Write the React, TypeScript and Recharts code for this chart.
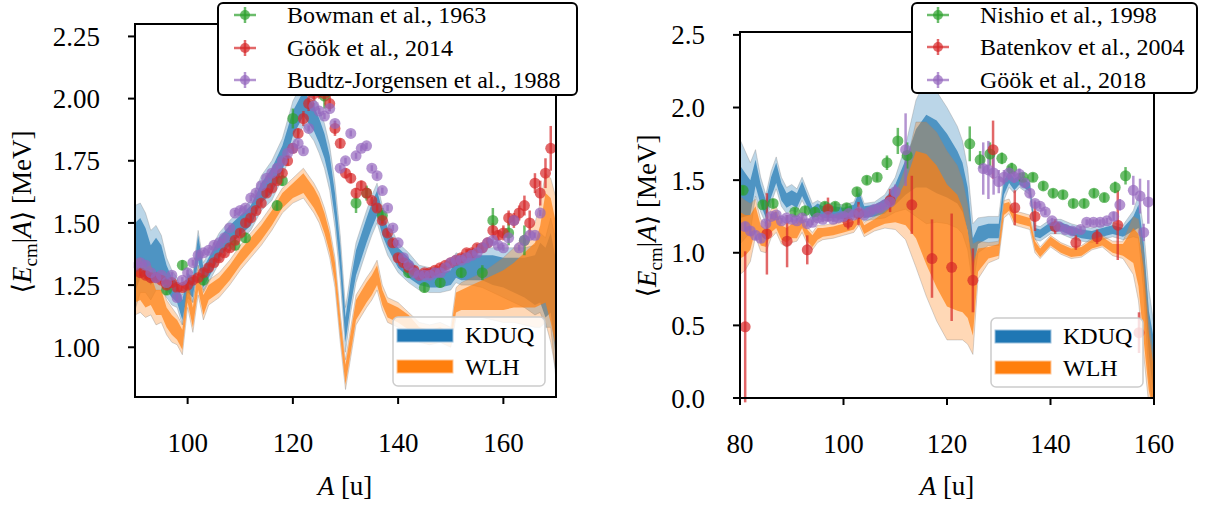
import React from "react";
import { ComposedChart, Area, Scatter, ErrorBar, XAxis, YAxis } from "recharts";

const FONT = "'Liberation Serif', 'DejaVu Serif', 'Times New Roman', serif";
const BLUE = "#1f77b4";
const ORANGE = "#ff7f0e";
const GREEN = "#2ca02c";
const RED = "#d62728";
const PURPLE = "#9467bd";

// ---------- left panel: model bands ----------
const leftA = [90, 91, 92, 93, 94, 95, 96, 97, 98, 99, 100, 101, 102, 103, 104, 106, 108, 110, 112, 114, 116, 118, 120, 122, 124, 125, 126, 127, 128, 129, 130, 131, 132, 134, 135, 136, 137, 138, 140, 142, 144, 146, 148, 150, 151, 152, 154, 156, 158, 160, 162, 164, 166, 167, 168, 169, 170];
const leftKduq = [1.36, 1.4, 1.38, 1.33, 1.36, 1.34, 1.28, 1.24, 1.22, 1.15, 1.26, 1.24, 1.4, 1.28, 1.32, 1.4, 1.45, 1.49, 1.53, 1.62, 1.67, 1.76, 1.9, 1.98, 1.92, 1.87, 1.81, 1.72, 1.57, 1.36, 1.07, 1.22, 1.34, 1.47, 1.53, 1.58, 1.5, 1.44, 1.36, 1.32, 1.28, 1.27, 1.27, 1.28, 1.32, 1.31, 1.32, 1.32, 1.31, 1.3, 1.29, 1.28, 1.27, 1.3, 1.26, 1.3, 1.15];
const leftKduqIn = [0.14, 0.12, 0.1, 0.08, 0.08, 0.07, 0.05, 0.04, 0.04, 0.04, 0.04, 0.04, 0.05, 0.04, 0.04, 0.04, 0.04, 0.04, 0.04, 0.04, 0.05, 0.05, 0.05, 0.05, 0.05, 0.05, 0.05, 0.05, 0.05, 0.05, 0.05, 0.05, 0.05, 0.05, 0.05, 0.05, 0.05, 0.04, 0.04, 0.04, 0.03, 0.03, 0.03, 0.03, 0.04, 0.04, 0.05, 0.05, 0.06, 0.06, 0.07, 0.08, 0.1, 0.12, 0.14, 0.16, 0.2];
const leftKduqOut = [0.21, 0.18, 0.16, 0.14, 0.13, 0.11, 0.08, 0.07, 0.06, 0.06, 0.06, 0.06, 0.07, 0.06, 0.06, 0.06, 0.06, 0.06, 0.06, 0.07, 0.08, 0.08, 0.09, 0.09, 0.09, 0.09, 0.09, 0.09, 0.09, 0.09, 0.09, 0.08, 0.08, 0.08, 0.08, 0.08, 0.07, 0.07, 0.06, 0.06, 0.05, 0.05, 0.05, 0.05, 0.06, 0.06, 0.07, 0.08, 0.09, 0.1, 0.11, 0.12, 0.14, 0.16, 0.18, 0.22, 0.28];
const leftWlh = [1.24, 1.25, 1.22, 1.23, 1.18, 1.18, 1.12, 1.09, 1.07, 1.03, 1.22, 1.12, 1.27, 1.17, 1.22, 1.25, 1.3, 1.36, 1.41, 1.46, 1.52, 1.59, 1.63, 1.66, 1.6, 1.56, 1.5, 1.42, 1.3, 1.08, 0.89, 1.02, 1.15, 1.22, 1.25, 1.29, 1.2, 1.15, 1.13, 1.1, 1.06, 1.05, 1.06, 1.04, 1.18, 1.19, 1.2, 1.21, 1.22, 1.23, 1.25, 1.27, 1.29, 1.33, 1.4, 1.35, 1.25];
const leftWlhIn = [0.06, 0.06, 0.06, 0.06, 0.05, 0.05, 0.04, 0.04, 0.04, 0.04, 0.04, 0.04, 0.04, 0.04, 0.03, 0.03, 0.03, 0.03, 0.03, 0.03, 0.03, 0.03, 0.03, 0.04, 0.04, 0.04, 0.04, 0.04, 0.04, 0.04, 0.04, 0.04, 0.04, 0.04, 0.04, 0.04, 0.03, 0.03, 0.03, 0.03, 0.02, 0.02, 0.02, 0.02, 0.04, 0.04, 0.05, 0.06, 0.07, 0.08, 0.09, 0.11, 0.13, 0.16, 0.22, 0.25, 0.25];
const leftWlhOut = [0.11, 0.11, 0.1, 0.1, 0.09, 0.08, 0.07, 0.07, 0.06, 0.06, 0.06, 0.06, 0.06, 0.06, 0.05, 0.05, 0.05, 0.05, 0.05, 0.05, 0.05, 0.05, 0.05, 0.06, 0.06, 0.06, 0.06, 0.06, 0.06, 0.06, 0.06, 0.06, 0.06, 0.06, 0.06, 0.06, 0.05, 0.05, 0.05, 0.04, 0.04, 0.04, 0.04, 0.04, 0.06, 0.07, 0.08, 0.09, 0.11, 0.13, 0.15, 0.18, 0.21, 0.25, 0.3, 0.33, 0.35];

// ---------- left panel: measurements ----------
const bowmanA = [96, 99, 103, 109, 111, 117, 118, 120, 126, 132, 134, 137, 142, 145, 148, 152, 156, 158, 161, 164];
const bowmanE = [1.23, 1.33, 1.27, 1.41, 1.44, 1.57, 1.67, 1.92, 2.01, 1.58, 1.62, 1.53, 1.3, 1.24, 1.26, 1.3, 1.3, 1.51, 1.46, 1.43];
const bowmanErr = [0.02, 0.02, 0.02, 0.02, 0.02, 0.02, 0.02, 0.04, 0.05, 0.04, 0.03, 0.03, 0.02, 0.02, 0.02, 0.02, 0.03, 0.05, 0.05, 0.06];

const gook14A = [91, 92, 93, 94, 95, 96, 97, 98, 99, 100, 101, 102, 103, 104, 105, 106, 107, 108, 109, 110, 111, 112, 113, 114, 115, 116, 117, 118, 119, 120, 121, 122, 123, 124, 125, 126, 127, 128, 129, 130, 131, 132, 133, 134, 135, 136, 137, 138, 139, 140, 141, 142, 143, 144, 145, 146, 147, 148, 149, 150, 151, 152, 153, 154, 155, 156, 157, 158, 159, 160, 161, 162, 163, 164, 165, 166, 167, 168, 169];
const gook14E = [1.3, 1.29, 1.28, 1.28, 1.27, 1.25, 1.26, 1.24, 1.24, 1.25, 1.27, 1.28, 1.3, 1.32, 1.34, 1.36, 1.38, 1.4, 1.43, 1.46, 1.5, 1.52, 1.55, 1.58, 1.62, 1.64, 1.67, 1.7, 1.75, 1.8, 1.86, 1.92, 1.98, 2.02, 2.03, 2.02, 1.98, 1.88, 1.82, 1.7, 1.68, 1.62, 1.65, 1.62, 1.59, 1.56, 1.51, 1.46, 1.42, 1.36, 1.34, 1.32, 1.31, 1.29, 1.3, 1.3, 1.31, 1.32, 1.33, 1.34, 1.35, 1.36, 1.38, 1.38, 1.4, 1.4, 1.42, 1.47, 1.45, 1.46, 1.52, 1.51, 1.54, 1.57, 1.5, 1.66, 1.62, 1.7, 1.8];
const gook14Err = [0.015, 0.015, 0.015, 0.015, 0.015, 0.015, 0.015, 0.015, 0.015, 0.015, 0.015, 0.015, 0.015, 0.015, 0.015, 0.015, 0.015, 0.015, 0.015, 0.015, 0.015, 0.015, 0.015, 0.015, 0.015, 0.015, 0.015, 0.015, 0.02, 0.02, 0.02, 0.03, 0.03, 0.03, 0.03, 0.03, 0.03, 0.03, 0.02, 0.02, 0.02, 0.02, 0.02, 0.02, 0.015, 0.015, 0.015, 0.015, 0.015, 0.015, 0.015, 0.015, 0.015, 0.015, 0.015, 0.015, 0.015, 0.015, 0.015, 0.015, 0.015, 0.015, 0.015, 0.015, 0.015, 0.02, 0.02, 0.03, 0.02, 0.03, 0.03, 0.03, 0.03, 0.04, 0.05, 0.04, 0.05, 0.06, 0.09];

const budtzA = [90, 91, 92, 93, 94, 95, 96, 97, 98, 99, 100, 101, 102, 103, 104, 105, 106, 107, 108, 109, 110, 111, 112, 113, 114, 115, 116, 117, 118, 119, 120, 121, 122, 123, 124, 125, 126, 127, 128, 129, 130, 131, 132, 133, 134, 135, 136, 137, 138, 139, 140, 141, 142, 143, 144, 145, 146, 147, 148, 149, 150, 151, 152, 153, 154, 155, 156, 157, 158, 159, 160, 161, 162, 163, 164, 165, 166, 167];
const budtzE = [1.33, 1.34, 1.33, 1.3, 1.28, 1.29, 1.26, 1.29, 1.2, 1.27, 1.3, 1.34, 1.37, 1.38, 1.39, 1.41, 1.42, 1.44, 1.48, 1.54, 1.55, 1.56, 1.6, 1.62, 1.65, 1.68, 1.7, 1.72, 1.75, 1.78, 1.8, 1.82, 1.79, 1.88, 1.97, 1.95, 1.93, 1.96, 1.9, 1.72, 1.75, 1.86, 1.77, 1.8, 1.81, 1.72, 1.69, 1.63, 1.56, 1.48, 1.42, 1.36, 1.33, 1.3, 1.29, 1.29, 1.29, 1.3, 1.3, 1.32, 1.34, 1.35, 1.35, 1.36, 1.37, 1.38, 1.4, 1.42, 1.43, 1.41, 1.4, 1.44, 1.51, 1.4, 1.43, 1.45, 1.45, 1.54];
const budtzErr = 0.012;

// ---------- right panel: model bands ----------
const rightA = [80, 81, 82, 83, 84, 85, 86, 87, 88, 89, 90, 91, 92, 93, 94, 95, 96, 98, 100, 102, 103, 104, 106, 108, 110, 112, 114, 116, 118, 120, 122, 123, 124, 125, 126, 128, 130, 131, 132, 133, 134, 136, 137, 138, 140, 142, 144, 146, 148, 150, 152, 154, 156, 157, 158, 159, 160];
const rightKduq = [1.42, 1.4, 1.38, 1.55, 1.4, 1.3, 1.45, 1.55, 1.42, 1.36, 1.38, 1.36, 1.44, 1.36, 1.27, 1.3, 1.28, 1.28, 1.27, 1.29, 1.38, 1.28, 1.29, 1.32, 1.4, 1.52, 1.65, 1.7, 1.66, 1.6, 1.52, 1.45, 1.3, 0.98, 1.12, 1.15, 1.15, 1.45, 1.52, 1.47, 1.5, 1.45, 1.14, 1.13, 1.18, 1.18, 1.15, 1.13, 1.12, 1.14, 1.16, 1.14, 1.2, 1.25, 0.95, 0.45, 0.2];
const rightKduqIn = [0.18, 0.15, 0.12, 0.09, 0.07, 0.06, 0.07, 0.07, 0.06, 0.05, 0.05, 0.05, 0.05, 0.04, 0.04, 0.04, 0.04, 0.04, 0.04, 0.04, 0.04, 0.04, 0.04, 0.05, 0.07, 0.12, 0.2, 0.25, 0.25, 0.22, 0.18, 0.17, 0.15, 0.12, 0.06, 0.05, 0.05, 0.05, 0.04, 0.04, 0.03, 0.03, 0.03, 0.03, 0.03, 0.03, 0.03, 0.03, 0.03, 0.03, 0.03, 0.03, 0.05, 0.08, 0.12, 0.15, 0.2];
const rightKduqOut = [0.36, 0.3, 0.24, 0.16, 0.12, 0.1, 0.11, 0.11, 0.1, 0.09, 0.09, 0.08, 0.08, 0.07, 0.07, 0.06, 0.06, 0.06, 0.06, 0.06, 0.06, 0.06, 0.06, 0.08, 0.12, 0.22, 0.4, 0.5, 0.45, 0.4, 0.35, 0.32, 0.28, 0.22, 0.12, 0.1, 0.1, 0.09, 0.07, 0.06, 0.05, 0.05, 0.05, 0.05, 0.05, 0.05, 0.05, 0.05, 0.05, 0.05, 0.05, 0.05, 0.09, 0.15, 0.22, 0.3, 0.3];
const rightWlh = [1.12, 1.12, 1.14, 1.24, 1.12, 1.1, 1.2, 1.23, 1.14, 1.12, 1.15, 1.15, 1.21, 1.12, 1.08, 1.13, 1.14, 1.15, 1.17, 1.19, 1.24, 1.16, 1.2, 1.24, 1.28, 1.34, 1.4, 1.3, 1.18, 1.05, 1.0, 0.95, 0.85, 0.68, 0.95, 1.0, 1.02, 1.3, 1.32, 1.24, 1.23, 1.21, 1.05, 1.0, 1.08, 1.03, 1.0, 1.01, 1.06, 1.08, 1.03, 1.02, 1.05, 0.95, 0.65, 0.25, 0.05];
const rightWlhIn = [0.16, 0.14, 0.12, 0.08, 0.07, 0.06, 0.06, 0.06, 0.05, 0.05, 0.05, 0.05, 0.04, 0.04, 0.04, 0.04, 0.03, 0.03, 0.03, 0.03, 0.03, 0.03, 0.03, 0.04, 0.07, 0.15, 0.3, 0.38, 0.42, 0.42, 0.4, 0.36, 0.3, 0.25, 0.08, 0.04, 0.04, 0.04, 0.03, 0.03, 0.03, 0.03, 0.03, 0.03, 0.03, 0.03, 0.03, 0.03, 0.03, 0.03, 0.03, 0.04, 0.12, 0.18, 0.25, 0.2, 0.15];
const rightWlhOut = [0.27, 0.24, 0.2, 0.13, 0.11, 0.1, 0.1, 0.09, 0.08, 0.08, 0.08, 0.07, 0.07, 0.06, 0.06, 0.06, 0.05, 0.05, 0.05, 0.05, 0.05, 0.05, 0.05, 0.07, 0.12, 0.25, 0.5, 0.6, 0.65, 0.65, 0.6, 0.55, 0.48, 0.38, 0.13, 0.07, 0.06, 0.06, 0.05, 0.05, 0.05, 0.05, 0.05, 0.04, 0.04, 0.04, 0.04, 0.04, 0.04, 0.04, 0.05, 0.06, 0.2, 0.28, 0.35, 0.3, 0.2];

// ---------- right panel: measurements ----------
const nishioA = [80.6, 84.4, 86.4, 90.6, 92.6, 94.5, 96.4, 98.4, 100.6, 102.6, 104.5, 106.5, 108.4, 110.5, 112.3, 124.4, 126.4, 128.3, 130.6, 132.5, 134.7, 136.6, 138.6, 140.5, 142.4, 144.4, 146.5, 148.4, 150.4, 152.5, 154.5];
const nishioE = [1.43, 1.33, 1.34, 1.28, 1.29, 1.28, 1.32, 1.32, 1.31, 1.42, 1.5, 1.52, 1.62, 1.77, 1.67, 1.75, 1.64, 1.68, 1.65, 1.58, 1.52, 1.52, 1.46, 1.41, 1.4, 1.34, 1.34, 1.41, 1.38, 1.45, 1.53];
const nishioErr = [0.03, 0.03, 0.03, 0.03, 0.03, 0.03, 0.03, 0.03, 0.03, 0.03, 0.03, 0.03, 0.05, 0.09, 0.09, 0.12, 0.06, 0.08, 0.04, 0.04, 0.03, 0.03, 0.03, 0.03, 0.03, 0.03, 0.03, 0.03, 0.03, 0.04, 0.06];

const batenkovA = [81, 85.2, 89.1, 93, 97, 100.9, 102.9, 109, 113.2, 117.1, 120.9, 125, 128.9, 133.1, 137, 140.9, 144.9, 149, 153, 157.1];
const batenkovE = [0.49, 1.13, 1.08, 1.02, 1.3, 1.21, 1.27, 1.36, 1.33, 0.96, 0.9, 0.81, 1.71, 1.31, 1.25, 1.18, 1.07, 1.11, 1.19, 0.45];
const batenkovErr = [0.52, 0.28, 0.18, 0.1, 0.08, 0.05, 0.08, 0.08, 0.2, 0.27, 0.37, 0.22, 0.2, 0.12, 0.1, 0.05, 0.05, 0.05, 0.24, 0.14];

const gook18A = [81, 82, 83, 84, 85, 86, 87, 88, 89, 90, 91, 92, 93, 94, 95, 96, 97, 98, 99, 100, 101, 102, 103, 104, 105, 106, 107, 108, 109, 110, 112, 127, 128, 129, 130, 131, 132, 133, 134, 135, 136, 137, 138, 139, 140.3, 141.6, 142.9, 144.2, 145.8, 147, 148.3, 149.6, 150.9, 152.2, 153.4, 156, 157.3, 158, 158.9];
const gook18E = [1.18, 1.15, 1.12, 1.1, 1.2, 1.25, 1.26, 1.22, 1.24, 1.23, 1.22, 1.24, 1.2, 1.21, 1.24, 1.23, 1.25, 1.23, 1.24, 1.25, 1.27, 1.26, 1.28, 1.26, 1.28, 1.3, 1.31, 1.33, 1.35, 1.42, 1.71, 1.58, 1.57, 1.55, 1.49, 1.52, 1.55, 1.52, 1.54, 1.48, 1.41, 1.34, 1.32, 1.28, 1.22, 1.18, 1.16, 1.15, 1.16, 1.21, 1.21, 1.21, 1.22, 1.25, 1.33, 1.43, 1.39, 1.14, 1.35];
const gook18Err = [0.03, 0.03, 0.03, 0.03, 0.02, 0.02, 0.02, 0.02, 0.02, 0.02, 0.02, 0.02, 0.02, 0.02, 0.02, 0.02, 0.02, 0.02, 0.02, 0.02, 0.02, 0.02, 0.02, 0.02, 0.02, 0.02, 0.02, 0.02, 0.03, 0.05, 0.25, 0.18, 0.2, 0.15, 0.08, 0.05, 0.05, 0.04, 0.04, 0.03, 0.03, 0.02, 0.02, 0.02, 0.02, 0.02, 0.02, 0.02, 0.02, 0.02, 0.02, 0.02, 0.02, 0.03, 0.04, 0.1, 0.12, 0.06, 0.15];

// ---------- axis ticks ----------
const leftXTicks = [100, 120, 140, 160];
const leftYTicks = [1.0, 1.25, 1.5, 1.75, 2.0, 2.25];
const rightXTicks = [80, 100, 120, 140, 160];
const rightYTicks = [0, 0.5, 1.0, 1.5, 2.0, 2.5];

const toBands = (A: number[], km: number[], ki: number[], ko: number[], wm: number[], wi: number[], wo: number[]) =>
  A.map((a, i) => ({
    A: a,
    kOut: [km[i] - ko[i], km[i] + ko[i]],
    kIn: [km[i] - ki[i], km[i] + ki[i]],
    wOut: [wm[i] - wo[i], wm[i] + wo[i]],
    wIn: [wm[i] - wi[i], wm[i] + wi[i]],
  }));

const toPoints = (A: number[], E: number[], err: number[] | number) =>
  A.map((a, i) => ({ A: a, E: E[i], err: Array.isArray(err) ? err[i] : err }));

const leftData = toBands(leftA, leftKduq, leftKduqIn, leftKduqOut, leftWlh, leftWlhIn, leftWlhOut);
const rightData = toBands(rightA, rightKduq, rightKduqIn, rightKduqOut, rightWlh, rightWlhIn, rightWlhOut);

const leftSeries = [
  { name: "Bowman et al., 1963", color: GREEN, data: toPoints(bowmanA, bowmanE, bowmanErr) },
  { name: "Göök et al., 2014", color: RED, data: toPoints(gook14A, gook14E, gook14Err) },
  { name: "Budtz-Jorgensen et al., 1988", color: PURPLE, data: toPoints(budtzA, budtzE, budtzErr) },
];
const rightSeries = [
  { name: "Nishio et al., 1998", color: GREEN, data: toPoints(nishioA, nishioE, nishioErr) },
  { name: "Batenkov et al., 2004", color: RED, data: toPoints(batenkovA, batenkovE, batenkovErr) },
  { name: "Göök et al., 2018", color: PURPLE, data: toPoints(gook18A, gook18E, gook18Err) },
];

const tickStyle = { fontSize: 27, fill: "#000", fontFamily: FONT };

function Panel(props: any) {
  const { width, margin, data, xDomain, xTicks, yDomain, yTicks, digits, series } = props;
  return (
    <ComposedChart width={width} height={506} data={data} margin={margin}>
      <XAxis
        dataKey="A"
        type="number"
        domain={xDomain}
        ticks={xTicks}
        interval={0}
        allowDataOverflow
        axisLine={false}
        tickSize={7}
        tickMargin={29}
        tickLine={{ stroke: "#000", strokeWidth: 2 }}
        tick={tickStyle}
        height={30}
      />
      <YAxis
        type="number"
        domain={yDomain}
        ticks={yTicks}
        interval={0}
        allowDataOverflow
        axisLine={false}
        tickSize={7}
        tickMargin={28}
        tickLine={{ stroke: "#000", strokeWidth: 2 }}
        tick={tickStyle}
        width={60}
        tickFormatter={(v: number) => v.toFixed(digits)}
      />
      <Area dataKey="kOut" type="linear" fill={BLUE} fillOpacity={0.3} stroke="#888" strokeOpacity={0.35} strokeWidth={1} dot={false} activeDot={false} isAnimationActive={false} />
      <Area dataKey="kIn" type="linear" fill={BLUE} fillOpacity={0.7} stroke="none" dot={false} activeDot={false} isAnimationActive={false} />
      <Area dataKey="wOut" type="linear" fill={ORANGE} fillOpacity={0.3} stroke="#888" strokeOpacity={0.35} strokeWidth={1} dot={false} activeDot={false} isAnimationActive={false} />
      <Area dataKey="wIn" type="linear" fill={ORANGE} fillOpacity={0.7} stroke="none" dot={false} activeDot={false} isAnimationActive={false} />
      {series.map((s: any) => (
        <Scatter
          key={s.name}
          name={s.name}
          data={s.data}
          dataKey="E"
          fill={s.color}
          isAnimationActive={false}
          shape={(p: any) => <circle cx={p.cx} cy={p.cy} r={5.5} fill={s.color} fillOpacity={0.7} />}
        >
          <ErrorBar dataKey="err" direction="y" width={0} stroke={s.color} strokeWidth={2.5} strokeOpacity={0.7} />
        </Scatter>
      ))}
    </ComposedChart>
  );
}

function YLabel({ x, y }: { x: number; y: number }) {
  return (
    <text transform={`translate(${x},${y}) rotate(-90)`} textAnchor="middle" fontFamily={FONT} fontSize={27} fill="#000">
      ⟨<tspan fontStyle="italic">E</tspan>
      <tspan fontSize={19} dy={6}>cm</tspan>
      <tspan dy={-6}>|</tspan>
      <tspan fontStyle="italic">A</tspan>⟩ [MeV]
    </text>
  );
}

function XLabel({ x, y }: { x: number; y: number }) {
  return (
    <text x={x} y={y} textAnchor="middle" fontFamily={FONT} fontSize={27} fill="#000">
      <tspan fontStyle="italic">A</tspan> [u]
    </text>
  );
}

function DataLegend({ x, y, w, h, mx, tx, rows, series }: any) {
  return (
    <g>
      <rect x={x} y={y} width={w} height={h} rx={5} fill="#fff" stroke="#000" strokeWidth={2} />
      {series.map((s: any, i: number) => (
        <g key={s.name}>
          <line x1={mx - 11} x2={mx + 11} y1={rows[i]} y2={rows[i]} stroke={s.color} strokeOpacity={0.7} strokeWidth={2.5} />
          <line x1={mx} x2={mx} y1={rows[i] - 8} y2={rows[i] + 8} stroke={s.color} strokeOpacity={0.7} strokeWidth={2.5} />
          <circle cx={mx} cy={rows[i]} r={5} fill={s.color} fillOpacity={0.7} />
          <text x={tx} y={rows[i] + 8} fontFamily={FONT} fontSize={24} fill="#000">{s.name}</text>
        </g>
      ))}
    </g>
  );
}

function ModelLegend({ x, y }: { x: number; y: number }) {
  return (
    <g>
      <rect x={x} y={y} width={152} height={69} rx={5} fill="#fff" fillOpacity={0.8} stroke="#cccccc" strokeWidth={1.5} />
      <rect x={x + 4} y={y + 12} width={56} height={13} fill={BLUE} stroke="#9ec2dd" strokeWidth={1} />
      <rect x={x + 4} y={y + 43} width={56} height={13} fill={ORANGE} stroke="#ffc79a" strokeWidth={1} />
      <text x={x + 72} y={y + 26} fontFamily={FONT} fontSize={24} fill="#000">KDUQ</text>
      <text x={x + 72} y={y + 58} fontFamily={FONT} fontSize={24} fill="#000">WLH</text>
    </g>
  );
}

export default function App() {
  return (
    <div style={{ position: "absolute", left: 0, top: 0, width: 1206, height: 506, background: "#fff" }}>
      <div style={{ position: "absolute", left: 0, top: 0 }}>
        <Panel
          width={600}
          margin={{ top: 24, right: 44, bottom: 79, left: 75 }}
          data={leftData}
          xDomain={[90, 170]}
          xTicks={leftXTicks}
          yDomain={[0.8, 2.3]}
          yTicks={leftYTicks}
          digits={2}
          series={leftSeries}
        />
      </div>
      <div style={{ position: "absolute", left: 600, top: 0 }}>
        <Panel
          width={606}
          margin={{ top: 32, right: 52, bottom: 78, left: 80 }}
          data={rightData}
          xDomain={[80, 160]}
          xTicks={rightXTicks}
          yDomain={[0, 2.52]}
          yTicks={rightYTicks}
          digits={1}
          series={rightSeries}
        />
      </div>
      <svg width={1206} height={506} style={{ position: "absolute", left: 0, top: 0, pointerEvents: "none" }}>
        <rect x={135} y={24} width={421} height={373} fill="none" stroke="#000" strokeWidth={2} />
        <rect x={740} y={32} width={414} height={366} fill="none" stroke="#000" strokeWidth={2} />
        <YLabel x={31} y={212} />
        <YLabel x={656} y={216} />
        <XLabel x={345} y={495} />
        <XLabel x={947} y={495} />
        <ModelLegend x={393} y={317} />
        <ModelLegend x={991} y={318} />
        <DataLegend x={218} y={3} w={359} h={92} mx={245} tx={287} rows={[15, 48, 80]} series={leftSeries} />
        <DataLegend x={912} y={3} w={285} h={90} mx={938} tx={980} rows={[15, 47, 80]} series={rightSeries} />
      </svg>
    </div>
  );
}
